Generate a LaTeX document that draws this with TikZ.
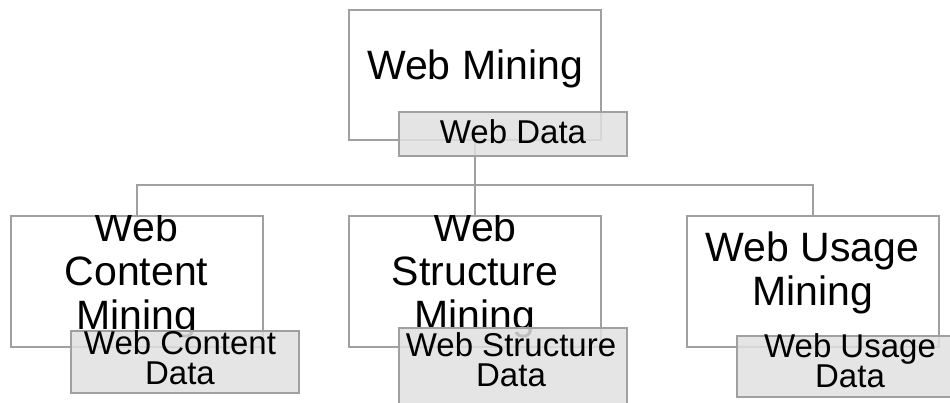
\documentclass[tikz,border=0pt]{standalone}
\usepackage{fontspec}
\setmainfont{Liberation Sans}
\definecolor{boxline}{HTML}{A0A0A0}
\definecolor{datafill}{HTML}{E0E0E0}
\tikzset{
  minebox/.style={draw=boxline, line width=2pt, fill=white, minimum width=252pt, minimum height=130pt, inner sep=0pt},
  databox/.style={draw=boxline, line width=2pt, fill=datafill, fill opacity=0.85, minimum width=228pt, inner sep=0pt},
  link/.style={draw=boxline, line width=2pt},
  bigtext/.style={font=\fontsize{41}{44}\selectfont, align=center, inner sep=0pt},
  smalltext/.style={font=\fontsize{33}{30}\selectfont, align=center, inner sep=0pt}
}
\begin{document}
\begin{tikzpicture}[x=1pt,y=-1pt]
\useasboundingbox (0,0) rectangle (950,403);
\clip (0,0) rectangle (950,403);
% mining boxes
\node[minebox] (root) at (475,75) {};
\node[minebox] (content) at (136.5,281.5) {};
\node[minebox] (structure) at (475,281.5) {};
\node[minebox] (usage) at (812.5,281.5) {};
% tree lines
\coordinate (bus) at (475,185);
\draw[link] (root.south) -- (bus) -| (content.north);
\draw[link] (bus) -- (structure.north);
\draw[link] (bus) -| (usage.north);
% texts cut off at the box top
\node[bigtext] (roottext) at (475,69) {Web Mining};
\begin{scope}
  \clip (content.north west) rectangle (content.south east);
  \node[bigtext] (contenttext) at (136.5,275) {Web\\Content\\Mining};
\end{scope}
\begin{scope}
  \clip (structure.north west) rectangle (structure.south east);
  \node[bigtext] (structuretext) at (475,275) {Web\\Structure\\Mining};
\end{scope}
\node[bigtext] (usagetext) at (812.5,273) {Web Usage\\Mining};
% data boxes
\node[databox, minimum height=44pt] (rootdata) at (513,134) {};
\node[databox, minimum height=62pt] (contentdata) at (185,362) {};
\node[databox, minimum height=82pt] (structuredata) at (512.5,369) {};
\node[databox, minimum height=61pt] (usagedata) at (851,366.5) {};
\node[smalltext] (rootdatatext) at (513,132) {Web Data};
\node[smalltext] (contentdatatext) at (180,358) {Web Content\\Data};
\node[smalltext] (structuredatatext) at (511,360) {Web Structure\\Data};
\node[smalltext] (usagedatatext) at (850,361) {Web Usage\\Data};
\end{tikzpicture}
\end{document}
